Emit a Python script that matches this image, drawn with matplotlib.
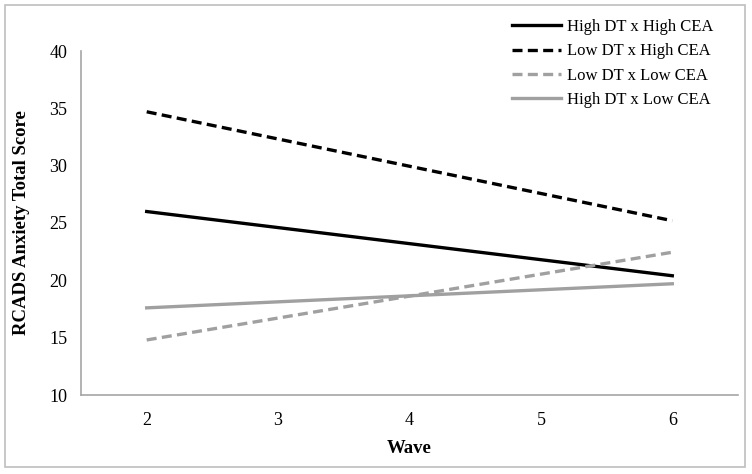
import matplotlib
matplotlib.use('Agg')
import matplotlib.pyplot as plt
from matplotlib.patches import Rectangle

# waves on the x axis
waves = [2, 3, 4, 5, 6]

# estimated values at wave 2 and wave 6 (straight simple-slope lines)
wave_ends = [2, 6]
high_dt_high_cea = [26.0, 20.4]
low_dt_high_cea = [34.7, 25.2]
low_dt_low_cea = [14.8, 22.45]
high_dt_low_cea = [17.6, 19.7]

y_ticks = [10, 15, 20, 25, 30, 35, 40]

plt.rcParams['font.family'] = ['Liberation Serif', 'DejaVu Serif']

fig = plt.figure(figsize=(7.52, 4.74), dpi=100)
ax = fig.add_axes([81 / 752, (474 - 395) / 474, (738 - 81) / 752, (395 - 51) / 474])

grey = '#a0a0a0'
lw = 2.4
ax.plot(wave_ends, high_dt_high_cea, color='black', lw=lw, label='High DT x High CEA')
ax.plot(wave_ends, low_dt_high_cea, color='black', lw=lw, ls=(0, (3, 1.6)), label='Low DT x High CEA')
ax.plot(wave_ends, low_dt_low_cea, color=grey, lw=lw, ls=(0, (3, 1.6)), label='Low DT x Low CEA')
ax.plot(wave_ends, high_dt_low_cea, color=grey, lw=lw, label='High DT x Low CEA')

ax.set_xlim(1.5, 6.5)
ax.set_ylim(10, 40)
ax.set_xticks(waves)
ax.set_yticks(y_ticks)
ax.tick_params(length=0, labelsize=13, pad=10)
ax.tick_params(axis='x', pad=12)

for s in ['top', 'right']:
    ax.spines[s].set_visible(False)
for s in ['left', 'bottom']:
    ax.spines[s].set_color('#a6a6a6')
    ax.spines[s].set_linewidth(1.2)

ax.set_xlabel('Wave', fontsize=13.5, fontweight='bold', labelpad=8)
ax.set_ylabel('RCADS Anxiety Total Score', fontsize=13.5, fontweight='bold', labelpad=14)

leg = ax.legend(loc='upper right', bbox_to_anchor=(0.962, 1.093), frameon=False,
                fontsize=12, handlelength=2.9, handletextpad=0.35,
                labelspacing=0.5, borderaxespad=0, borderpad=0)

# thin grey frame round the whole chart
fig.patches.append(Rectangle((5 / 752, 7 / 474), 740 / 752, 462 / 474, transform=fig.transFigure,
                             fill=False, edgecolor='#bfbfbf', lw=1.2))

fig.savefig('out.png', dpi=100)
